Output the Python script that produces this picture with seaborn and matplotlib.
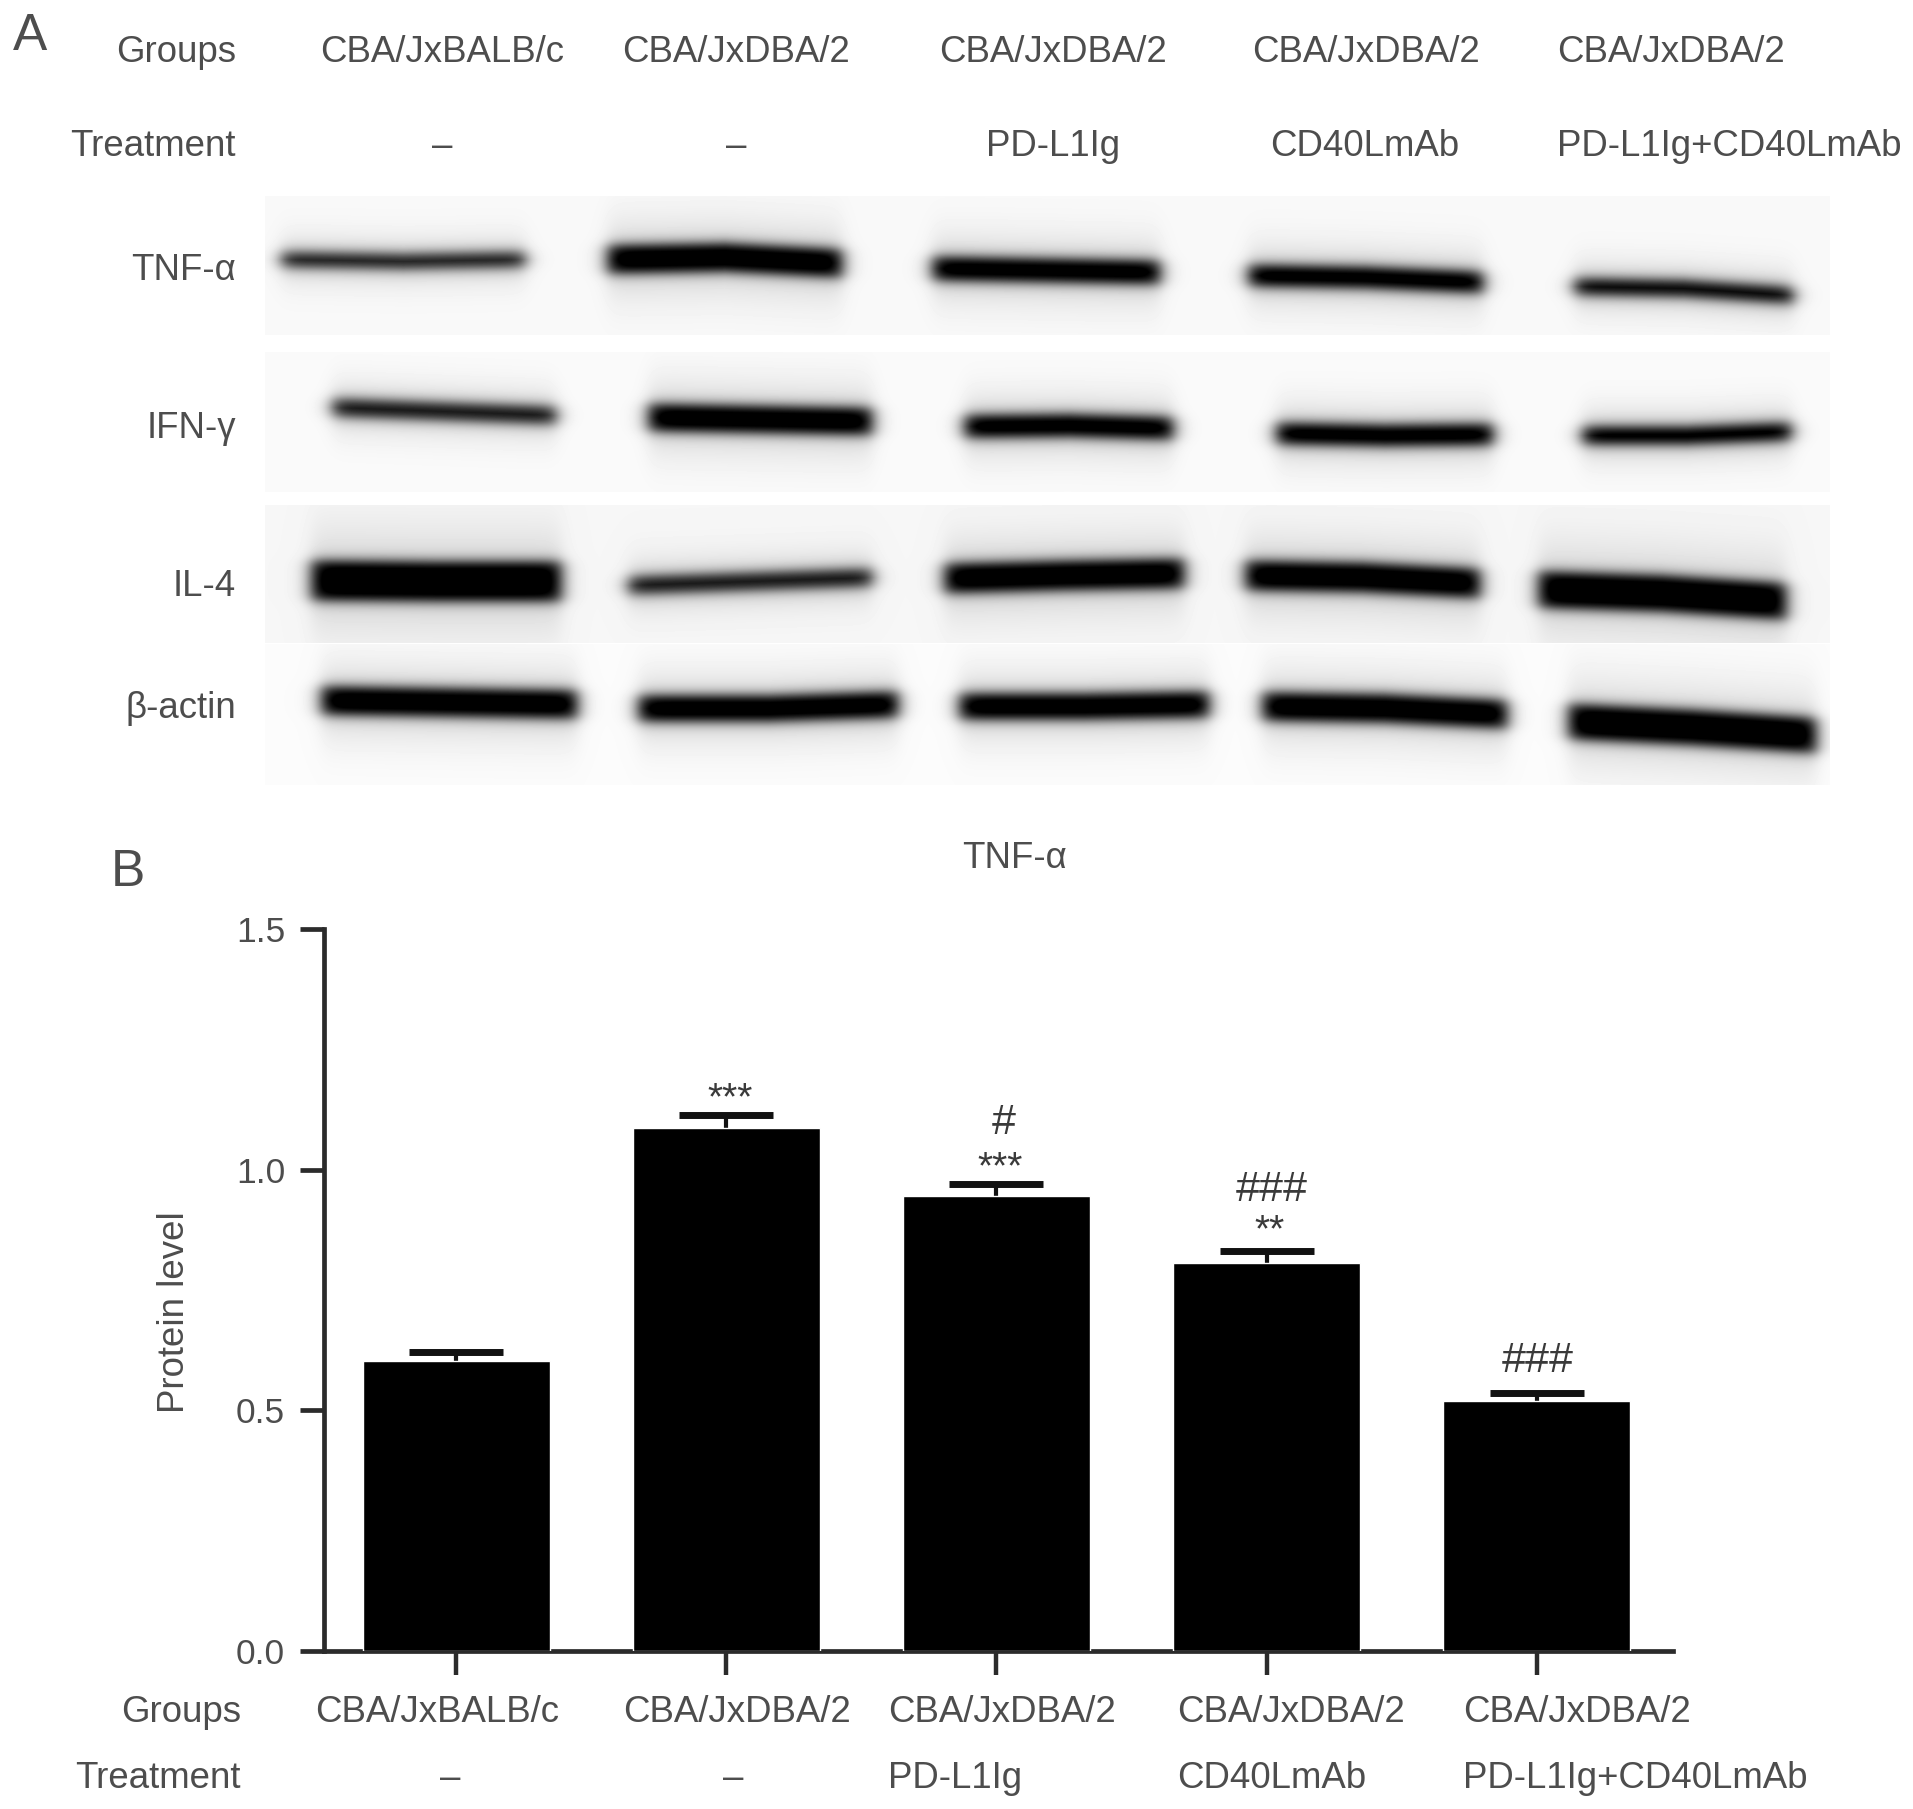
import numpy as np
import matplotlib
matplotlib.use('Agg')
import matplotlib.pyplot as plt
import pandas as pd
import seaborn as sns

W, H = 1913, 1809
TXT = '#4d4d4d'

groups = ['CBA/JxBALB/c', 'CBA/JxDBA/2', 'CBA/JxDBA/2', 'CBA/JxDBA/2', 'CBA/JxDBA/2']
treatments = ['–', '–', 'PD-L1Ig', 'CD40LmAb', 'PD-L1Ig+CD40LmAb']
proteins = ['TNF-α', 'IFN-γ', 'IL-4', 'β-actin']

# bar chart values
protein_level = [0.603, 1.087, 0.945, 0.806, 0.519]
protein_err = [0.018, 0.026, 0.025, 0.025, 0.016]
yticks = [0.0, 0.5, 1.0, 1.5]

# significance marks: label, bar, height
mark_text = ['***', '#', '***', '###', '**', '###']
mark_size = [28, 31, 28, 31, 28, 31]
mark_bar = [1.013, 2.028, 2.013, 3.02, 3.013, 4.004]
mark_y = [1.125, 1.074, 0.982, 0.935, 0.851, 0.580]

# blot bands, one row per protein, one column per lane
band_left = [[281, 607, 932, 1248, 1574],
             [332, 648, 964, 1276, 1582],
             [311, 628, 944, 1245, 1538],
             [321, 638, 959, 1262, 1568]]
band_right = [[525, 842, 1160, 1483, 1793],
              [556, 872, 1173, 1493, 1791],
              [561, 872, 1184, 1480, 1786],
              [577, 898, 1209, 1507, 1816]]
band_yleft = [[259, 259, 268, 275, 286],
              [407, 417, 426, 433, 435],
              [580, 585, 578, 575, 589],
              [700, 708, 706, 706, 721]]
band_ymid = [[261, 257, 270, 277, 288],
             [411, 419, 425, 435, 435],
             [581, 581, 575, 577, 593],
             [702, 708, 706, 708, 727]]
band_yright = [[259, 263, 272, 282, 295],
               [415, 421, 428, 434, 431],
               [581, 577, 573, 583, 601],
               [704, 704, 704, 714, 735]]
band_thick = [[13, 24, 20, 18, 14],
              [15, 23, 19, 18, 15],
              [34, 15, 25, 25, 31],
              [24, 22, 22, 24, 30]]
band_dark = [[0.82, 1.0, 1.0, 1.0, 0.92],
             [0.85, 1.0, 1.0, 1.0, 0.98],
             [1.0, 0.85, 1.0, 1.0, 1.0],
             [1.0, 1.0, 1.0, 1.0, 1.0]]
panel_top = [196, 352, 505, 644]
panel_bottom = [335, 492, 643, 785]
panel_grey = [0.975, 0.98, 0.965, 0.985]


def make_blot():
    x0, x1, y0, y1 = 265, 1830, 196, 785
    xs = np.arange(x0, x1)
    xx, yy = np.meshgrid(xs, np.arange(y0, y1))
    img = np.ones(xx.shape)
    for p in range(4):
        mask = (yy >= panel_top[p]) & (yy < panel_bottom[p])
        ink = np.zeros(xx.shape)
        for i in range(5):
            l, r = band_left[p][i], band_right[p][i]
            line = np.interp(xs, [l, (l + r) / 2, r],
                             [band_yleft[p][i], band_ymid[p][i], band_yright[p][i]])
            centre = np.tile(line, (xx.shape[0], 1))
            edge = 1 / (1 + np.exp(-(xx - l) / 5)) * 1 / (1 + np.exp((xx - r) / 5))
            th = band_thick[p][i]
            core = 1 / (1 + np.exp((np.abs(yy - centre) - th * 0.58) / 3.6))
            halo = 0.13 * np.exp(-((yy - centre) / (th * 1.3 + 10)) ** 2)
            ink = np.maximum(ink, band_dark[p][i] * edge * (core + halo))
        img[mask] = (panel_grey[p] * (1 - np.clip(ink, 0, 1)))[mask]
    return img, (x0, x1, y1, y0)


def ftext(x, y, s, **kw):
    kw.setdefault('fontsize', 26.4)
    kw.setdefault('color', TXT)
    kw.setdefault('va', 'center')
    kw.setdefault('ha', 'center')
    return fig.text(x / W, 1 - (y + 4) / H, s, **kw)


sns.set_style('ticks')
plt.rcParams['font.family'] = ['Liberation Sans', 'DejaVu Sans']

fig = plt.figure(figsize=(W / 100, H / 100), dpi=100, facecolor='white')

# panel A blot
img, extent = make_blot()
ax_blot = fig.add_axes([265 / W, 1 - 785 / H, (1830 - 265) / W, (785 - 196) / H])
ax_blot.imshow(img, cmap='gray', vmin=0, vmax=1, extent=extent, aspect='auto', interpolation='bilinear')
ax_blot.axis('off')

# panel A table
ftext(30, 33, 'A', fontsize=37)
ftext(236, 49, 'Groups', ha='right')
ftext(236, 143, 'Treatment', ha='right')
for x, s in zip([442, 736, 1053, 1366, 1671], groups):
    ftext(x, 49, s)
for x, s in zip([442, 736, 1053, 1365, 1729], treatments):
    ftext(x, 143, s)
for y, s in zip([266, 425, 583, 705], proteins):
    ftext(236, y, s, ha='right')

# panel B bars
df = pd.DataFrame({'bar': np.arange(5), 'level': protein_level})
ax = fig.add_axes([324 / W, 1 - 1651 / H, (1673 - 324) / W, (1651 - 929) / H])
ax.patch.set_alpha(0)
sns.barplot(data=df, x='bar', y='level', color='black', saturation=1, width=0.69, ax=ax, zorder=3)
eb = ax.errorbar(df['bar'], df['level'], yerr=[np.zeros(5), protein_err], fmt='none', ecolor='#111111',
                 elinewidth=3, capsize=34, capthick=5, zorder=2, clip_on=False)
eb[1][0].set_visible(False)
ax.set_xlim(-0.49, 4.505)
ax.set_ylim(0, 1.5)
ax.set_yticks(yticks)
ax.set_yticklabels(['%.1f' % v for v in yticks])
ax.set_xticks(df['bar'])
ax.set_xticklabels([])
ax.set_xlabel('')
ax.set_ylabel('')
ax.tick_params(axis='y', length=17, width=3.4, color='#2b2b2b', labelsize=25.5, labelcolor=TXT, pad=11)
ax.tick_params(axis='x', length=17, width=3.2, color='#2b2b2b')
sns.despine(ax=ax)
for side in ['left', 'bottom']:
    ax.spines[side].set_linewidth(3.4)
    ax.spines[side].set_color('#2b2b2b')

for s, x, y, fs in zip(mark_text, mark_bar, mark_y, mark_size):
    ax.text(x, y, s, ha='center', va='baseline', fontsize=fs, color='#3a3a3a')

ftext(128, 869, 'B', fontsize=37)
ftext(1014, 854, 'TNF-α')
ftext(175, 1308, 'Protein level', rotation=90)

# panel B table
ftext(241, 1708, 'Groups', ha='right')
ftext(241, 1775, 'Treatment', ha='right')
for x, s in zip([437, 737, 1002, 1291, 1577], groups):
    ftext(x, 1708, s)
ftext(450, 1775, treatments[0])
ftext(733, 1775, treatments[1])
for x, s in zip([888, 1177, 1463], treatments[2:]):
    ftext(x, 1775, s, ha='left')

fig.savefig('out.png', dpi=100)
